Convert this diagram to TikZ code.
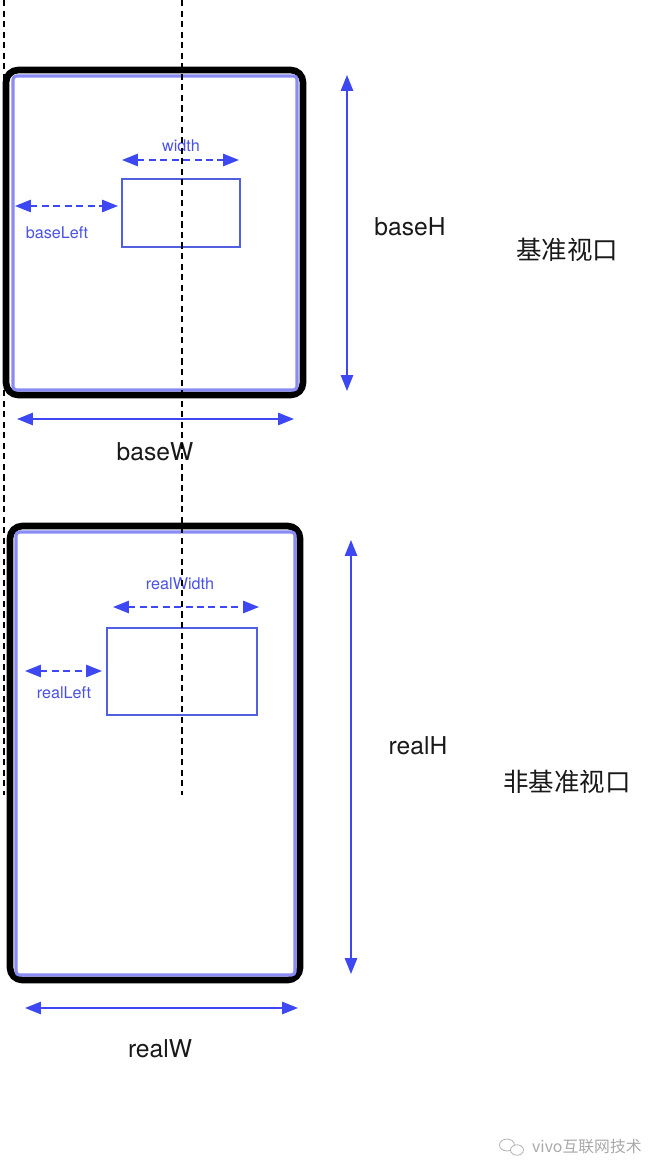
\documentclass[tikz,border=0pt]{standalone}
\usepackage{fontspec}
\setmainfont{TeX Gyre Heros}
\newfontfamily\cjk{Noto Sans CJK SC}
\usetikzlibrary{arrows.meta,positioning}
\definecolor{cdim}{HTML}{3D48F2}
\definecolor{cscreen}{HTML}{8A8CF5}
\definecolor{cbox}{HTML}{5060E0}
\definecolor{ctext}{HTML}{4A52E6}
\definecolor{cmark}{HTML}{A8A8A8}
\tikzset{
  frame/.style={draw=black, line width=3.8pt, rounded corners=7pt},
  screen/.style={draw=cscreen, line width=1.8pt, rounded corners=2pt},
  elem/.style={draw=cbox, line width=0.85pt},
  dim/.style={{Triangle[length=9pt,width=7pt]}-{Triangle[length=9pt,width=7pt]}, draw=cdim, line width=0.8pt},
  ddim/.style={dim, dash pattern=on 4pt off 2.5pt},
  guide/.style={draw=black, line width=0.7pt, dash pattern=on 3.5pt off 2.5pt},
  big/.style={font=\fontsize{14}{16}\selectfont, text=black!90},
  lbl/.style={font=\fontsize{9.2}{11}\selectfont, text=ctext},
  tag/.style={font=\cjk\fontsize{14.5}{17}\selectfont, text=black!90},
}

\begin{document}
\begin{tikzpicture}[x=0.02cm,y=-0.02cm]
\useasboundingbox (0,0) rectangle (656,1176);
% ---------------- guides
\coordinate (gLtop) at (4,0);    \coordinate (gLbot) at (4,795);
\coordinate (gMtop) at (182,0);  \coordinate (gMbot) at (182,795);
% ---------------- base viewport
\draw[frame] (6,70) rectangle (303,395);
\draw[screen] (13,76) rectangle (297,390);
\draw[elem] (122,179) rectangle (240,247);
\coordinate (wL) at (122,160);  \coordinate (wR) at (239,160);
\coordinate (blL) at (15,206);  \coordinate (blR) at (118,206);
\coordinate (bwL) at (17,419);  \coordinate (bwR) at (294,419);
\coordinate (bhT) at (347,75);  \coordinate (bhB) at (347,391);
\draw[ddim] (wL) -- (wR);
\draw[ddim] (blL) -- (blR);
\draw[dim] (bwL) -- (bwR);
\draw[dim] (bhT) -- (bhB);
\node[lbl] (tWidth) at (181,146) {width};
\node[lbl] (tBaseLeft) at (57,233) {baseLeft};
\node[big] (tBaseW) at (155,452) {baseW};
\node[big] (tBaseH) at (410,227) {baseH};
\node[tag] (tBase) at (567,250) {基准视口};
% ---------------- real viewport
\draw[frame] (10,526) rectangle (300,980);
\draw[screen] (16,532) rectangle (295,975);
\draw[elem] (107,628) rectangle (257,715);
\coordinate (rwL) at (113,607);  \coordinate (rwR) at (259,607);
\coordinate (rlL) at (25,671);   \coordinate (rlR) at (102,671);
\coordinate (rWL) at (25,1008);  \coordinate (rWR) at (298,1008);
\coordinate (rhT) at (351,540);  \coordinate (rhB) at (351,974);
\draw[ddim] (rwL) -- (rwR);
\draw[ddim] (rlL) -- (rlR);
\draw[dim] (rWL) -- (rWR);
\draw[dim] (rhT) -- (rhB);
\node[lbl] (tRealWidth) at (180,584) {realWidth};
\node[lbl] (tRealLeft) at (64,693) {realLeft};
\node[big] (tRealW) at (160,1049) {realW};
\node[big] (tRealH) at (418,746) {realH};
\node[tag] (tReal) at (567,782) {非基准视口};
% ---------------- guides on top
\draw[guide] (gLtop) -- (gLbot);
\draw[guide] (gMtop) -- (gMbot);
% ---------------- watermark
\draw[cmark, line width=0.4pt] (507,1145) ellipse (7.5 and 6);
\draw[cmark, line width=0.4pt, fill=white] (517,1150) ellipse (6.5 and 5.2);
\node[font=\cjk\fontsize{9}{11}\selectfont, text=cmark, anchor=west] (tMark) at (526,1147) {vivo互联网技术};
\end{tikzpicture}
\end{document}
